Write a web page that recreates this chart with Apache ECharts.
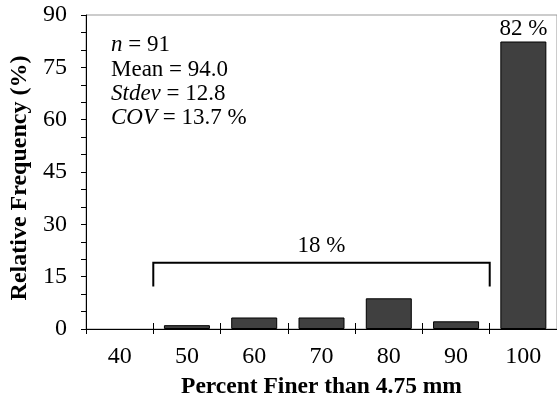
<!DOCTYPE html>
<html>
<head>
<meta charset="utf-8">
<script src="https://cdn.jsdelivr.net/npm/echarts@6/dist/echarts.min.js"></script>
<style>
  html, body { margin: 0; padding: 0; background: #fff; }
  #chart { width: 557px; height: 404px; }
</style>
</head>
<body>
<div id="chart"></div>
<script>
// ---- data ----
var categories = ['40', '50', '60', '70', '80', '90', '100'];
var frequency = [null, 1.1, 3.3, 3.3, 8.8, 2.2, 82.4];
var barLabels = ['', '', '', '', '', '', '82 %'];
var yTicks = [0, 15, 30, 45, 60, 75, 90];
var bracketFrom = '50';
var bracketTo = '90';
var bracketTop = 19;
var bracketBottom = 12.2;
var bracketLabel = '18 %';
var statsLines = ['{i|n} = 91', 'Mean = 94.0', '{i|Stdev} = 12.8', '{i|COV} = 13.7 %'];

var FONT = "'Liberation Serif', 'Times New Roman', serif";

var chart = echarts.init(document.getElementById('chart'), null, { renderer: 'canvas' });

var option = {
  animation: false,
  backgroundColor: '#fff',
  title: {
    left: 111,
    top: 33,
    padding: 0,
    text: statsLines.join('\n'),
    textStyle: {
      fontFamily: FONT,
      fontSize: 23,
      fontWeight: 'normal',
      color: '#000',
      lineHeight: 24.4,
      rich: {
        i: { fontFamily: FONT, fontSize: 23, fontStyle: 'italic', color: '#000', lineHeight: 24.4 }
      }
    }
  },
  grid: {
    left: 86,
    top: 15,
    width: 476,
    height: 318,
    show: true,
    borderColor: '#999',
    borderWidth: 1,
    backgroundColor: 'transparent'
  },
  xAxis: [{
    type: 'category',
    data: categories,
    boundaryGap: true,
    axisLine: { show: true, lineStyle: { color: '#000', width: 1 } },
    axisTick: { show: true, inside: false, length: 5, alignWithLabel: false, lineStyle: { color: '#000' } },
    axisLabel: { fontFamily: FONT, fontSize: 24, color: '#000', margin: 16 },
    splitLine: { show: false },
    name: 'Percent Finer than 4.75 mm',
    nameLocation: 'middle',
    nameGap: 46,
    nameTextStyle: { fontFamily: FONT, fontSize: 23.5, fontWeight: 'bold', color: '#000' }
  }, {
    type: 'category',
    data: categories,
    position: 'bottom',
    gridIndex: 0,
    boundaryGap: true,
    axisLine: { show: false },
    axisTick: { show: true, inside: true, length: 6, lineStyle: { color: '#000' } },
    axisLabel: { show: false },
    splitLine: { show: false }
  }],
  yAxis: {
    type: 'value',
    min: yTicks[0],
    max: yTicks[yTicks.length - 1],
    interval: 15,
    axisLine: { show: true, lineStyle: { color: '#000', width: 1 } },
    axisTick: { show: true, inside: false, length: 5, lineStyle: { color: '#000' } },
    minorTick: { show: true, splitNumber: 3, length: 5, lineStyle: { color: '#000' } },
    axisLabel: { fontFamily: FONT, fontSize: 24, color: '#000', margin: 19 },
    splitLine: { show: false },
    name: 'Relative Frequency (%)',
    nameLocation: 'middle',
    nameGap: 53,
    nameTextStyle: { fontFamily: FONT, fontSize: 24, fontWeight: 'bold', color: '#000', padding: [0, 12, 0, 0] }
  },
  series: [{
    type: 'bar',
    xAxisIndex: 0,
    data: frequency,
    barWidth: 46,
    itemStyle: { color: '#404040', borderColor: '#000', borderWidth: 1 },
    label: {
      show: true,
      position: 'top',
      distance: 1,
      fontFamily: FONT,
      fontSize: 23,
      color: '#000',
      formatter: function (p) { return barLabels[p.dataIndex]; }
    }
  }, {
    type: 'custom',
    xAxisIndex: 0,
    clip: false,
    data: [[categories.indexOf(bracketFrom), categories.indexOf(bracketTo), bracketTop, bracketBottom]],
    encode: { x: [0, 1], y: [2, 3] },
    renderItem: function (params, api) {
      var band = api.size([1, 0])[0];
      var pTopL = api.coord([api.value(0), api.value(2)]);
      var pTopR = api.coord([api.value(1), api.value(2)]);
      var pBot = api.coord([api.value(0), api.value(3)]);
      var x1 = pTopL[0] - band / 2;
      var x2 = pTopR[0] + band / 2;
      var yT = pTopL[1];
      var yB = pBot[1];
      return {
        type: 'group',
        children: [{
          type: 'polyline',
          shape: { points: [[x1, yB], [x1, yT], [x2, yT], [x2, yB]] },
          style: { stroke: '#000', lineWidth: 2, fill: null }
        }, {
          type: 'text',
          style: {
            text: bracketLabel,
            x: (x1 + x2) / 2,
            y: yT - 5,
            textAlign: 'center',
            textVerticalAlign: 'bottom',
            fontFamily: FONT,
            fontSize: 23,
            fill: '#000'
          }
        }]
      };
    }
  }]
};

chart.setOption(option);
</script>
</body>
</html>
